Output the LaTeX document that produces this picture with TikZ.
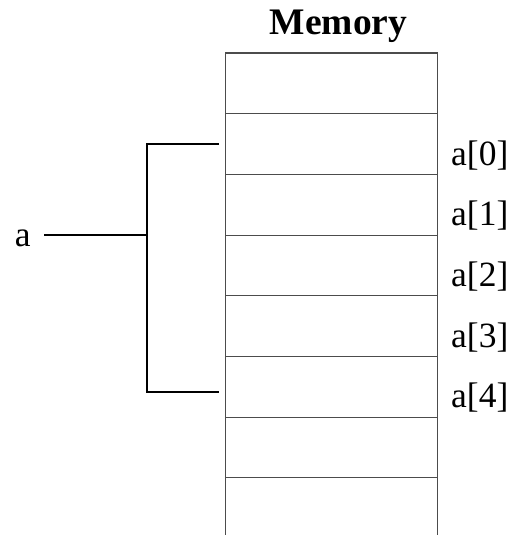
\documentclass[tikz,border=0pt]{standalone}
\usepackage{fontspec}
\setmainfont{Liberation Serif}
\begin{document}
\begin{tikzpicture}[x=1pt,y=1pt,
  cell/.style={draw=black!70, line width=1.1pt, minimum width=212pt, minimum height=60.7pt, inner sep=0pt, outer sep=0pt},
  lbl/.style={font=\fontsize{35.5}{42}\selectfont, anchor=base west, inner sep=0pt},
  brk/.style={draw=black, line width=1.6pt}]
\clip (0,0) rectangle (512,-535);
\fill[white] (0,0) rectangle (512,-535);
\foreach \i in {0,...,7} {
  \node[cell] (c\i) at (331.5,{-83.35-60.7*\i}) {};
}
\node[font=\bfseries\fontsize{37.5}{44}\selectfont, anchor=base, inner sep=0pt] (mem) at (338.5,-34.3) {Memory};
\node[lbl] (l0) at (451,-165) {a[0]};
\node[lbl] (l1) at (451,-225.7) {a[1]};
\node[lbl] (l2) at (451,-286.4) {a[2]};
\node[lbl] (l3) at (451,-347.1) {a[3]};
\node[lbl] (l4) at (451,-407.8) {a[4]};
\node[lbl] (a) at (14.7,-246) {a};
\coordinate (aL) at (44,-235);
\coordinate (j) at (147,-235);
\coordinate (b1) at (219,-144);
\coordinate (b2) at (219,-392);
\draw[brk] (aL) -- (j);
\draw[brk] (b1) -- (b1 -| j) -- (b2 -| j) -- (b2);
\end{tikzpicture}
\end{document}
